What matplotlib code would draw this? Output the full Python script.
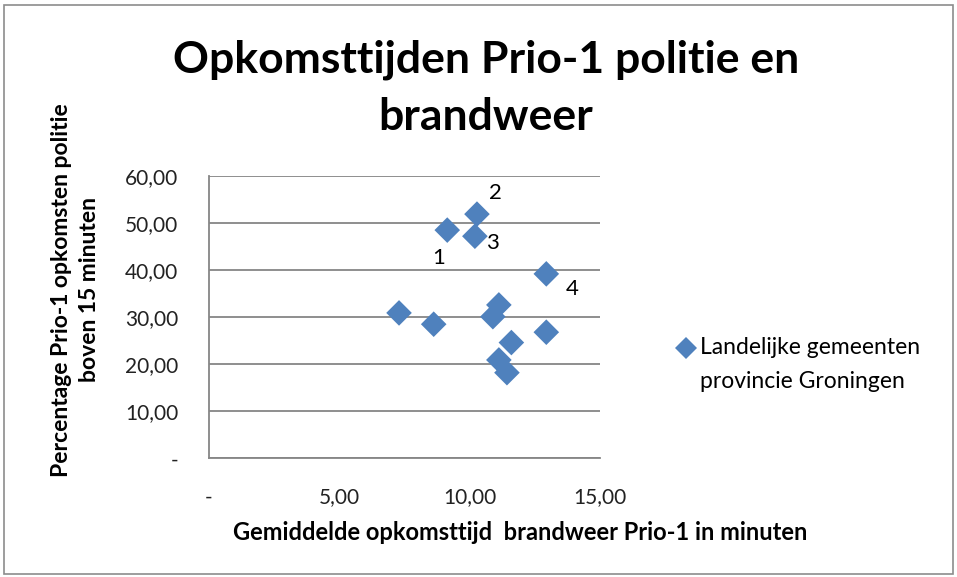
import matplotlib.pyplot as plt
from matplotlib.patches import Rectangle
from matplotlib.lines import Line2D
from matplotlib.ticker import FixedLocator, FixedFormatter

plt.rcParams['font.family'] = ['Lato', 'DejaVu Sans']

# gemiddelde opkomsttijd brandweer (min) / percentage politie > 15 min
brandweer = [9.14, 10.28, 10.20, 12.94, 7.29, 8.62, 11.12, 10.89, 12.94, 11.60, 11.12, 11.43]
politie = [48.5, 51.9, 47.2, 39.2, 30.9, 28.5, 32.6, 30.1, 26.8, 24.6, 20.9, 18.2]
point_labels = ['1', '2', '3', '4']

x_ticks = [0, 5, 10, 15]
x_ticklabels = ['-', '5,00', '10,00', '15,00']
y_ticks = [0, 10, 20, 30, 40, 50, 60]
y_ticklabels = ['-', '10,00', '20,00', '30,00', '40,00', '50,00', '60,00']

blue = '#4F81BD'
grid = '#868686'

fig = plt.figure(figsize=(9.57, 5.77), dpi=100)
fig.patches.append(Rectangle((0.004, 0.006), 0.992, 0.986, transform=fig.transFigure,
                             fill=False, edgecolor='#8c8c8c', linewidth=1.2))

ax = fig.add_axes([209 / 957, 1 - 458.3 / 577, 391 / 957, (458.3 - 176) / 577])
ax.scatter(brandweer, politie, marker='D', s=170, color=blue, edgecolors='none', zorder=3)

# labels voor de eerste vier punten
offsets = [(-6, -20), (13, 15), (13, -5), (19, -11)]
for i, lab in enumerate(point_labels):
    ax.annotate(lab, (brandweer[i], politie[i]), xytext=offsets[i],
                textcoords='offset points', ha='center', va='center', fontsize=16)

ax.set_xlim(0, 15)
ax.set_ylim(0, 60)
ax.xaxis.set_major_locator(FixedLocator(x_ticks))
ax.xaxis.set_major_formatter(FixedFormatter(x_ticklabels))
ax.yaxis.set_major_locator(FixedLocator(y_ticks))
ax.yaxis.set_major_formatter(FixedFormatter(y_ticklabels))
ax.tick_params(axis='both', length=0, labelsize=15, colors='#222222')
ax.tick_params(axis='y', pad=22)
ax.tick_params(axis='x', pad=21)
ax.grid(axis='y', color=grid, linewidth=1.3)
ax.set_axisbelow(True)
for side in ['top', 'right']:
    ax.spines[side].set_visible(False)
for side in ['left', 'bottom']:
    ax.spines[side].set_color(grid)
    ax.spines[side].set_linewidth(1.3)

fig.text(486 / 957, 1 - 60 / 577, 'Opkomsttijden Prio-1 politie en', ha='center', va='center',
         fontsize=32, fontweight='bold')
fig.text(486 / 957, 1 - 117 / 577, 'brandweer', ha='center', va='center',
         fontsize=32, fontweight='bold')

fig.text(520 / 957, 1 - 533 / 577, 'Gemiddelde opkomsttijd  brandweer Prio-1 in minuten',
         ha='center', va='center', fontsize=17, fontweight='bold')
fig.text(62 / 957, 1 - 290 / 577, 'Percentage Prio-1 opkomsten politie', rotation=90,
         ha='center', va='center', fontsize=16.5, fontweight='bold')
fig.text(90 / 957, 1 - 290 / 577, 'boven 15 minuten', rotation=90,
         ha='center', va='center', fontsize=16.5, fontweight='bold')

# legenda
fig.add_artist(Line2D([686 / 957], [1 - 348 / 577], marker='D', markersize=11, color=blue,
                      markeredgewidth=0, transform=fig.transFigure))
fig.text(700 / 957, 1 - 348 / 577, 'Landelijke gemeenten', ha='left', va='center', fontsize=16.5)
fig.text(700 / 957, 1 - 381 / 577, 'provincie Groningen', ha='left', va='center', fontsize=16.5)

fig.savefig('out.png', dpi=100)
